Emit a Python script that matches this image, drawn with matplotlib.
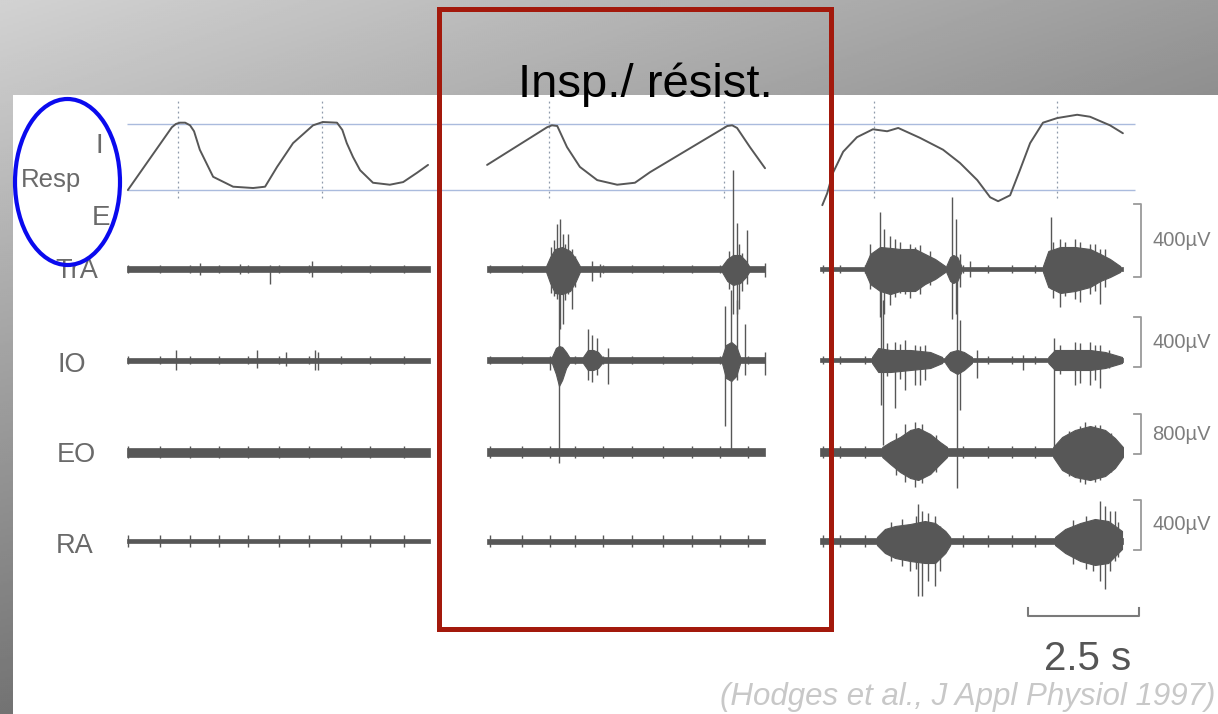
import numpy as np
import matplotlib
matplotlib.use("Agg")
import matplotlib.pyplot as plt
from matplotlib.patches import Ellipse, Rectangle

# ====================== DATA ======================
# three recording segments: control, inspiratory resistance, expiratory resistance
seg_duration = [6.82, 6.26, 6.82]          # s

# respiration trace (0 = E line, 1 = I line), time in s from segment start
resp_t_1 = [0.02, 0.52, 1.01, 1.10, 1.19, 1.31, 1.42, 1.51, 1.64, 1.94, 2.39, 2.84, 3.11,
            3.38, 3.74, 4.19, 4.41, 4.73, 4.85, 4.95, 5.09, 5.25, 5.54, 5.92, 6.22, 6.53, 6.78]
resp_v_1 = [0.00, 0.48, 0.95, 1.00, 1.02, 1.02, 0.98, 0.89, 0.61, 0.20, 0.05, 0.03, 0.05,
            0.35, 0.71, 0.98, 1.03, 1.02, 0.91, 0.71, 0.50, 0.30, 0.11, 0.08, 0.12, 0.26, 0.38]
resp_t_2 = [0.00, 1.35, 1.46, 1.58, 1.80, 2.09, 2.48, 2.93, 3.33, 3.67, 5.41, 5.52, 5.63, 5.92, 6.26]
resp_v_2 = [0.38, 0.95, 0.98, 0.97, 0.65, 0.35, 0.15, 0.08, 0.11, 0.27, 0.97, 0.98, 0.94, 0.65, 0.33]
resp_t_3 = [0.05, 0.16, 0.29, 0.52, 0.83, 1.19, 1.51, 1.76, 2.25, 2.77, 3.15, 3.54, 3.83, 4.01,
            4.28, 4.50, 4.73, 5.02, 5.34, 5.79, 6.08, 6.53, 6.82]
resp_v_3 = [-0.23, -0.05, 0.26, 0.58, 0.80, 0.92, 0.89, 0.94, 0.79, 0.61, 0.41, 0.15, -0.11, -0.17,
            -0.08, 0.30, 0.71, 1.02, 1.09, 1.14, 1.11, 0.98, 0.86]
resp_peaks = [[1.15, 4.39], [1.40, 5.34], [1.22, 5.34]]   # dotted markers, s

# ECG artefact times (s from segment start)
ecg_t = [[0.02, 0.74, 1.42, 2.07, 2.72, 3.42, 4.10, 4.82, 5.47, 6.24],
         [0.07, 0.79, 1.42, 1.98, 2.61, 3.27, 3.96, 4.62, 5.25, 5.88],
         [0.07, 0.45, 1.01, 3.22, 3.78, 4.32, 4.84]]

# EMG: background noise half-width per segment (uV)
tra_noise = [19, 16, 11]
io_noise = [20, 22, 16]
eo_noise = [90, 80, 80]
ra_noise = [16, 20, 24]

# EMG bursts: (segment, times s, upper uV, lower uV)
tra_bursts = [
    (1, [1.33, 1.42, 1.53, 1.69, 1.87, 2.00, 2.09], [16, 66, 110, 121, 99, 55, 16], [16, 77, 132, 138, 121, 66, 16]),
    (1, [5.29, 5.41, 5.54, 5.70, 5.83, 5.90], [16, 55, 77, 77, 44, 16], [16, 66, 88, 77, 44, 16]),
    (2, [1.01, 1.13, 1.35, 1.58, 1.80, 2.14, 2.36, 2.59, 2.82], [16, 83, 121, 116, 110, 110, 83, 55, 16],
     [16, 83, 121, 138, 121, 121, 83, 55, 16]),
    (2, [2.84, 2.93, 3.00, 3.09, 3.18], [16, 66, 77, 66, 16], [16, 66, 77, 66, 16]),
    (2, [5.02, 5.14, 5.41, 5.74, 6.08, 6.31, 6.53, 6.76], [16, 99, 121, 121, 110, 83, 55, 16],
     [16, 99, 132, 121, 99, 66, 44, 16]),
]
io_bursts = [
    (1, [1.46, 1.55, 1.62, 1.69, 1.78, 1.85], [24, 96, 112, 104, 64, 24], [24, 112, 208, 160, 64, 24]),
    (1, [2.16, 2.27, 2.39, 2.50, 2.59], [24, 80, 80, 64, 24], [24, 80, 80, 64, 24]),
    (1, [5.29, 5.38, 5.50, 5.61, 5.70], [24, 120, 144, 112, 24], [24, 144, 168, 128, 24]),
    (2, [1.17, 1.31, 1.58, 2.03, 2.48, 2.75], [24, 96, 80, 80, 64, 24], [24, 96, 96, 80, 64, 24]),
    (2, [2.82, 2.93, 3.09, 3.24, 3.42], [24, 64, 80, 64, 24], [24, 80, 112, 80, 24]),
    (2, [5.14, 5.29, 5.63, 6.08, 6.42, 6.80], [24, 80, 80, 80, 64, 24], [24, 80, 80, 80, 64, 24]),
]
eo_bursts = [
    (2, [1.40, 1.58, 1.80, 2.03, 2.21, 2.48, 2.70, 2.86], [100, 200, 300, 440, 480, 360, 200, 100],
     [100, 240, 400, 520, 560, 440, 240, 100]),
    (2, [5.25, 5.45, 5.74, 6.08, 6.42, 6.64, 6.82], [100, 300, 440, 520, 440, 280, 100],
     [100, 360, 500, 560, 480, 320, 100]),
]
ra_bursts = [
    (2, [1.28, 1.46, 1.69, 2.03, 2.36, 2.59, 2.82, 2.93], [32, 96, 120, 136, 160, 144, 80, 32],
     [32, 96, 136, 160, 176, 176, 96, 32]),
    (2, [5.29, 5.52, 5.86, 6.19, 6.49, 6.80], [32, 96, 144, 176, 160, 80], [32, 96, 160, 192, 176, 64]),
]

# EMG spikes: (segment, time s, up uV, down uV)
tra_spikes = [
    (0, 1.64, 33, 33), (0, 2.55, 28, 28), (0, 3.22, 22, 82), (0, 4.17, 44, 44),
    (1, 1.45, 120, 130), (1, 1.50, 160, 150), (1, 1.58, 248, 165), (1, 1.64, 275, 330), (1, 1.71, 193, 303),
    (1, 1.76, 140, 170), (1, 1.82, 193, 138), (1, 1.91, 110, 220), (1, 1.97, 70, 100),
    (1, 2.36, 44, 66), (1, 2.54, 28, 44), (1, 5.45, 100, 110), (1, 5.54, 545, 248), (1, 5.63, 253, 248),
    (1, 5.68, 138, 220), (1, 5.75, 90, 120), (1, 5.86, 215, 83), (1, 6.26, 33, 44),
    (2, 1.13, 140, 110), (2, 1.35, 314, 264), (2, 1.44, 220, 248), (2, 1.58, 180, 200), (2, 1.69, 165, 154),
    (2, 1.80, 150, 130), (2, 1.91, 110, 138), (2, 2.03, 140, 160), (2, 2.14, 121, 99), (2, 2.25, 130, 140),
    (2, 2.48, 100, 90),
    (2, 2.97, 396, 275), (2, 3.06, 275, 248), (2, 3.15, 83, 99), (2, 3.38, 44, 44),
    (2, 5.20, 286, 110), (2, 5.25, 150, 160), (2, 5.41, 165, 209), (2, 5.52, 150, 150), (2, 5.74, 165, 165),
    (2, 5.86, 150, 180), (2, 6.08, 138, 138), (2, 6.19, 140, 120), (2, 6.31, 110, 193), (2, 6.42, 110, 100),
]
io_spikes = [
    (0, 1.10, 80, 80), (0, 2.93, 80, 64), (0, 3.58, 64, 48), (0, 4.23, 80, 80), (0, 4.30, 64, 80),
    (1, 1.42, 16, 80), (1, 1.62, 720, 824), (1, 2.27, 248, 160), (1, 2.36, 200, 176), (1, 2.48, 176, 120),
    (1, 2.73, 96, 192), (1, 5.36, 432, 528), (1, 5.50, 560, 712), (1, 5.63, 480, 160), (1, 5.81, 288, 120),
    (1, 6.26, 64, 120),
    (2, 1.37, 760, 360), (2, 1.42, 480, 680), (2, 1.50, 140, 130), (2, 1.69, 144, 384), (2, 1.80, 130, 150),
    (2, 1.91, 160, 240), (2, 2.14, 120, 200), (2, 2.25, 110, 200), (2, 2.36, 120, 160),
    (2, 3.09, 640, 1024), (2, 3.15, 320, 400), (2, 3.54, 80, 144), (2, 4.57, 40, 80),
    (2, 5.27, 176, 704), (2, 5.41, 120, 110), (2, 5.74, 144, 200), (2, 5.86, 140, 180), (2, 6.08, 144, 200),
    (2, 6.20, 120, 160), (2, 6.31, 120, 224), (2, 6.50, 80, 60),
]
eo_spikes = [
    (2, 1.70, 380, 450), (2, 1.91, 560, 600), (2, 2.14, 600, 700), (2, 2.30, 560, 620), (2, 2.60, 350, 400),
    (2, 5.60, 420, 480), (2, 5.85, 520, 600), (2, 5.97, 600, 640), (2, 6.19, 540, 600), (2, 6.30, 540, 560),
    (2, 6.55, 380, 400),
]
ra_spikes = [
    (2, 1.60, 150, 160), (2, 1.85, 180, 200), (2, 2.03, 120, 240), (2, 2.15, 200, 220), (2, 2.21, 296, 440),
    (2, 2.30, 240, 440), (2, 2.43, 224, 320), (2, 2.59, 200, 360), (2, 2.70, 120, 240),
    (2, 5.70, 170, 180), (2, 6.00, 200, 220), (2, 6.15, 160, 240), (2, 6.31, 320, 320), (2, 6.42, 280, 384),
    (2, 6.53, 240, 240), (2, 6.64, 240, 160), (2, 6.70, 150, 130),
]

channel_names = ["TrA", "IO", "EO", "RA"]
channel_scale_uv = [400, 400, 800, 400]
scale_bar_s = 2.5

# ====================== LAYOUT ======================
W, H, DPI = 1218, 714, 100
PX_PER_S = 44.4
T0_PX = 127
SEG_START = [0.0, 8.11, 15.61]
XLIM = (-T0_PX / PX_PER_S, (W - T0_PX) / PX_PER_S)
TRACE = "#575757"
FONT = "Liberation Sans"

# baseline pixel row, uV per pixel, bracket bottom (uV), ECG tick (uV)
ROW_LAYOUT = {
    "TrA": (269, 5.5, -45, 22),
    "IO": (360, 8.0, -56, 32),
    "EO": (452, 20.0, -40, 120),
    "RA": (541, 8.0, -72, 48),
}

fig = plt.figure(figsize=(W / DPI, H / DPI), dpi=DPI)

# ---- background slide ----
bg = fig.add_axes([0, 0, 1, 1])
yy, xx = np.mgrid[0:H:2, 0:W:2]
grad = 210 - 55 * xx / W - 95 * yy / H
bg.imshow(grad, extent=(0, W, H, 0), cmap="gray", vmin=0, vmax=255, aspect="auto",
          interpolation="bilinear")
bg.add_patch(Rectangle((13, 95), W - 13, H - 95, facecolor="white", edgecolor="none"))
bg.set_xlim(0, W)
bg.set_ylim(H, 0)
bg.axis("off")


def row_axes(base_px, units_per_px):
    ax = fig.add_axes([0, 0, 1, 1])
    ax.set_xlim(*XLIM)
    ax.set_ylim(-(H - base_px) * units_per_px, base_px * units_per_px)
    ax.axis("off")
    ax.patch.set_visible(False)
    return ax


# ---- respiration ----
ax_r = row_axes(190, 1 / 66.0)
ax_r.hlines([0, 1], 0, 22.70, colors="#aabbdd", lw=1.0, zorder=1)
for i, (t, v) in enumerate([(resp_t_1, resp_v_1), (resp_t_2, resp_v_2), (resp_t_3, resp_v_3)]):
    ax_r.plot(np.array(t) + SEG_START[i], v, color=TRACE, lw=1.4, zorder=3, solid_capstyle="round")
    ax_r.vlines(np.array(resp_peaks[i]) + SEG_START[i], -0.12, 1.36, colors="#8f9aab",
                linestyles=(0, (1.5, 2.5)), lw=0.9, zorder=2)

# ---- EMG channels ----
noises = {"TrA": tra_noise, "IO": io_noise, "EO": eo_noise, "RA": ra_noise}
bursts = {"TrA": tra_bursts, "IO": io_bursts, "EO": eo_bursts, "RA": ra_bursts}
spikes = {"TrA": tra_spikes, "IO": io_spikes, "EO": eo_spikes, "RA": ra_spikes}

for name, scale in zip(channel_names, channel_scale_uv):
    base_px, upp, br_lo, ecg_amp = ROW_LAYOUT[name]
    ax = row_axes(base_px, upp)
    for i, hw in enumerate(noises[name]):
        t0 = SEG_START[i]
        ax.fill_between([t0, t0 + seg_duration[i]], [-hw, -hw], [hw, hw], color=TRACE, lw=0.5)
        ax.vlines(np.array(ecg_t[i]) + t0, -ecg_amp, ecg_amp, colors=TRACE, lw=1.0)
    for seg, t, up, dn in bursts[name]:
        ax.fill_between(np.array(t) + SEG_START[seg], -np.array(dn), up, color=TRACE, lw=0.8)
    for seg, t, up, dn in spikes[name]:
        ax.vlines(t + SEG_START[seg], -dn, up, colors=TRACE, lw=1.0)
    # calibration bracket
    bx, tick = 22.84, 0.17
    ax.plot([bx - tick, bx, bx, bx - tick], [br_lo, br_lo, br_lo + scale, br_lo + scale],
            color="#9a9a9a", lw=1.3)
    ax.text(bx + 0.25, br_lo + scale / 2, f"{scale}\u00b5V", ha="left", va="center",
            family=FONT, fontsize=14.5, color="#7d7d7d")

# ---- time scale bar ----
ax_t = fig.add_axes([0, 0, 1, 1])
ax_t.set_xlim(*XLIM)
ax_t.set_ylim(H, 0)
ax_t.axis("off")
ax_t.patch.set_visible(False)
sb0 = 20.29
ax_t.plot([sb0, sb0, sb0 + scale_bar_s, sb0 + scale_bar_s], [608, 616, 616, 608], color="#7a7a7a", lw=1.5)
ax_t.text(sb0 + scale_bar_s / 2 + 0.1, 670, "2.5 s", ha="center", va="baseline",
          family=FONT, fontsize=29, color="#555555")

# ---- overlay: labels, annotations ----
ov = fig.add_axes([0, 0, 1, 1])
ov.set_xlim(0, W)
ov.set_ylim(H, 0)
ov.axis("off")
ov.patch.set_visible(False)

lab = dict(ha="left", va="baseline", color="#6a6a6a", family=FONT)
ov.text(21, 187, "Resp", fontsize=18.5, **lab)
ov.text(95, 153, "I", fontsize=20, **lab)
ov.text(92, 225, "E", fontsize=20, **lab)
for name, (x, y) in zip(channel_names, [(55, 278), (57, 372), (57, 462), (56, 553)]):
    ov.text(x, y, name, fontsize=19.5, **lab)

ov.add_patch(Ellipse((67.5, 182), 105, 166, fill=False, edgecolor="#0a0aee", lw=3.0, zorder=5))
ov.add_patch(Rectangle((439, 9), 392, 620, fill=False, edgecolor="#a3190c", lw=3.6, zorder=5))
ov.text(518, 97, "Insp./ r\u00e9sist.", ha="left", va="baseline", fontsize=34,
        family=FONT, color="black", zorder=6)
ov.text(1215, 705, "(Hodges et al., J Appl Physiol 1997)", ha="right", va="baseline",
        fontsize=22.5, style="italic", family=FONT, color="#c8c8c8")

fig.savefig("out.png", dpi=DPI)
